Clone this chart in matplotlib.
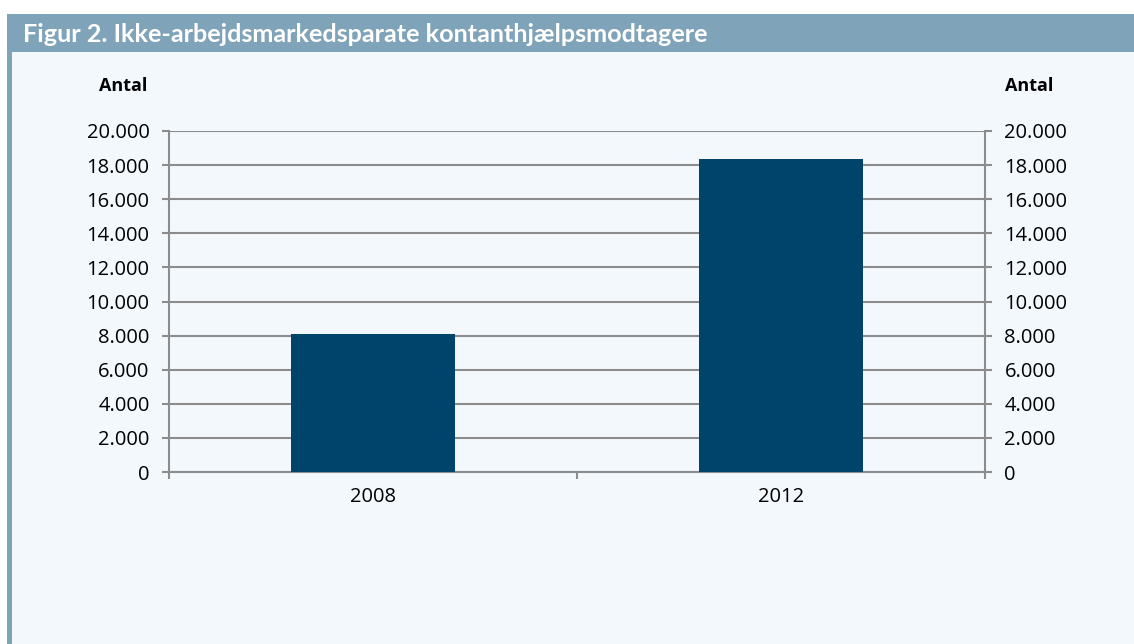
import matplotlib.pyplot as plt
from matplotlib.patches import Rectangle
from matplotlib.ticker import FuncFormatter

title = 'Figur 2. Ikke-arbejdsmarkedsparate kontanthjælpsmodtagere'
years = ['2008', '2012']
counts = [8100, 18350]
yticks = [0, 2000, 4000, 6000, 8000, 10000, 12000, 14000, 16000, 18000, 20000]

W, H = 1134, 644
bg = '#F3F8FD'
band = '#7FA3B8'
barcol = '#00436B'
grid = '#8C8C8C'

plt.rcParams['font.family'] = ['Open Sans', 'DejaVu Sans']

fig = plt.figure(figsize=(W / 100, H / 100), dpi=100)
fig.patch.set_facecolor('white')

# frame: header band, left strip, light background
fig.add_artist(Rectangle((7 / W, 0), 1 - 7 / W, 1 - 14 / H, transform=fig.transFigure,
                         facecolor=band, edgecolor='none', zorder=0))
fig.add_artist(Rectangle((12 / W, 0), 1 - 12 / W, 1 - 52 / H, transform=fig.transFigure,
                         facecolor=bg, edgecolor='none', zorder=0))
fig.text(23 / W, 1 - 34 / H, title, color='white', fontsize=18.2, fontweight='bold',
         family=['Lato', 'DejaVu Sans'], va='center', ha='left')

ax = fig.add_axes([169 / W, 1 - 472 / H, (985 - 169) / W, (472 - 131) / H])
ax.set_facecolor('none')
x = list(range(len(years)))
ax.bar(x, counts, width=0.4, color=barcol, zorder=3)
ax.set_xlim(-0.5, 1.5)
ax.set_ylim(0, 20000)
ax.set_yticks(yticks)
fmt = FuncFormatter(lambda v, p: f'{int(v):,}'.replace(',', '.'))
ax.yaxis.set_major_formatter(fmt)
ax.yaxis.grid(True, color=grid, linewidth=1.5, zorder=1)
ax.set_axisbelow(True)

ax.set_xticks([-0.5, 0.5, 1.5])
ax.set_xticklabels([])
ax.set_xticks(x, minor=True)
ax.set_xticklabels(years, minor=True)
ax.tick_params(axis='x', which='minor', length=0, pad=11, labelsize=14.5)
ax.tick_params(axis='x', which='major', length=5, width=1.5, color=grid, direction='out')
ax.tick_params(axis='y', length=5, width=1.5, color=grid, labelsize=14.5, pad=9)

for s in ['top', 'right']:
    ax.spines[s].set_visible(False)
for s in ['left', 'bottom']:
    ax.spines[s].set_color(grid)
    ax.spines[s].set_linewidth(1.5)

ax2 = ax.twinx()
ax2.set_ylim(0, 20000)
ax2.set_yticks(yticks)
ax2.yaxis.set_major_formatter(fmt)
ax2.tick_params(axis='y', length=5, width=1.5, color=grid, labelsize=14.5, pad=9)
for s in ['top', 'left', 'bottom']:
    ax2.spines[s].set_visible(False)
ax2.spines['right'].set_color(grid)
ax2.spines['right'].set_linewidth(1.5)

fig.text(123 / W, 1 - 86 / H, 'Antal', fontsize=13, fontweight='bold', ha='center', va='center')
fig.text(1029 / W, 1 - 86 / H, 'Antal', fontsize=13, fontweight='bold', ha='center', va='center')

fig.savefig('out.png', dpi=100, facecolor=fig.get_facecolor())
